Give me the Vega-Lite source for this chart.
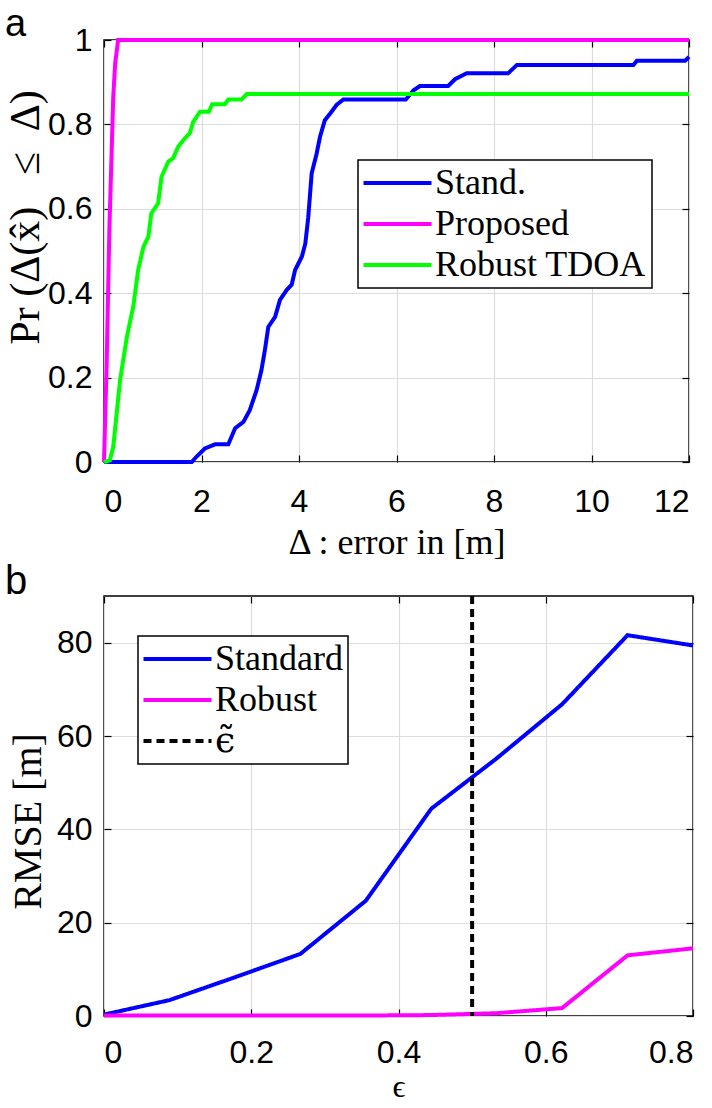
{
  "$schema": "https://vega.github.io/schema/vega-lite/v6.json",
  "background": "white",
  "padding": {"left": 3, "right": 5, "top": 5, "bottom": 0},
  "spacing": 0,
  "resolve": {"scale": {"color": "independent", "strokeDash": "independent", "strokeWidth": "independent"}},
  "datasets": {
    "cdf": [
      {"d": 0, "p": 0, "s": "Stand."},
      {"d": 1.80, "p": 0, "s": "Stand."},
      {"d": 1.90, "p": 0.013, "s": "Stand."},
      {"d": 2.07, "p": 0.032, "s": "Stand."},
      {"d": 2.28, "p": 0.042, "s": "Stand."},
      {"d": 2.55, "p": 0.042, "s": "Stand."},
      {"d": 2.69, "p": 0.08, "s": "Stand."},
      {"d": 2.86, "p": 0.095, "s": "Stand."},
      {"d": 2.99, "p": 0.123, "s": "Stand."},
      {"d": 3.13, "p": 0.17, "s": "Stand."},
      {"d": 3.23, "p": 0.218, "s": "Stand."},
      {"d": 3.30, "p": 0.265, "s": "Stand."},
      {"d": 3.37, "p": 0.32, "s": "Stand."},
      {"d": 3.51, "p": 0.344, "s": "Stand."},
      {"d": 3.61, "p": 0.384, "s": "Stand."},
      {"d": 3.75, "p": 0.408, "s": "Stand."},
      {"d": 3.85, "p": 0.42, "s": "Stand."},
      {"d": 3.92, "p": 0.455, "s": "Stand."},
      {"d": 4.06, "p": 0.487, "s": "Stand."},
      {"d": 4.13, "p": 0.518, "s": "Stand."},
      {"d": 4.19, "p": 0.58, "s": "Stand."},
      {"d": 4.26, "p": 0.684, "s": "Stand."},
      {"d": 4.36, "p": 0.73, "s": "Stand."},
      {"d": 4.43, "p": 0.77, "s": "Stand."},
      {"d": 4.53, "p": 0.81, "s": "Stand."},
      {"d": 4.64, "p": 0.826, "s": "Stand."},
      {"d": 4.77, "p": 0.846, "s": "Stand."},
      {"d": 4.91, "p": 0.859, "s": "Stand."},
      {"d": 6.19, "p": 0.859, "s": "Stand."},
      {"d": 6.35, "p": 0.881, "s": "Stand."},
      {"d": 6.48, "p": 0.891, "s": "Stand."},
      {"d": 7.06, "p": 0.891, "s": "Stand."},
      {"d": 7.20, "p": 0.907, "s": "Stand."},
      {"d": 7.44, "p": 0.921, "s": "Stand."},
      {"d": 8.29, "p": 0.921, "s": "Stand."},
      {"d": 8.47, "p": 0.941, "s": "Stand."},
      {"d": 10.86, "p": 0.941, "s": "Stand."},
      {"d": 10.93, "p": 0.951, "s": "Stand."},
      {"d": 11.92, "p": 0.951, "s": "Stand."},
      {"d": 12.0, "p": 0.96, "s": "Stand."},
      {"d": 0, "p": 0, "s": "Proposed"},
      {"d": 0.055, "p": 0.234, "s": "Proposed"},
      {"d": 0.11, "p": 0.55, "s": "Proposed"},
      {"d": 0.19, "p": 0.866, "s": "Proposed"},
      {"d": 0.23, "p": 0.945, "s": "Proposed"},
      {"d": 0.29, "p": 1.0, "s": "Proposed"},
      {"d": 12.0, "p": 1.0, "s": "Proposed"},
      {"d": 0, "p": 0, "s": "Robust TDOA"},
      {"d": 0.12, "p": 0.004, "s": "Robust TDOA"},
      {"d": 0.19, "p": 0.036, "s": "Robust TDOA"},
      {"d": 0.33, "p": 0.194, "s": "Robust TDOA"},
      {"d": 0.47, "p": 0.297, "s": "Robust TDOA"},
      {"d": 0.60, "p": 0.368, "s": "Robust TDOA"},
      {"d": 0.70, "p": 0.455, "s": "Robust TDOA"},
      {"d": 0.81, "p": 0.51, "s": "Robust TDOA"},
      {"d": 0.91, "p": 0.534, "s": "Robust TDOA"},
      {"d": 0.97, "p": 0.589, "s": "Robust TDOA"},
      {"d": 1.11, "p": 0.613, "s": "Robust TDOA"},
      {"d": 1.18, "p": 0.676, "s": "Robust TDOA"},
      {"d": 1.32, "p": 0.712, "s": "Robust TDOA"},
      {"d": 1.42, "p": 0.72, "s": "Robust TDOA"},
      {"d": 1.52, "p": 0.747, "s": "Robust TDOA"},
      {"d": 1.66, "p": 0.767, "s": "Robust TDOA"},
      {"d": 1.76, "p": 0.779, "s": "Robust TDOA"},
      {"d": 1.83, "p": 0.806, "s": "Robust TDOA"},
      {"d": 1.97, "p": 0.83, "s": "Robust TDOA"},
      {"d": 2.15, "p": 0.83, "s": "Robust TDOA"},
      {"d": 2.22, "p": 0.848, "s": "Robust TDOA"},
      {"d": 2.48, "p": 0.848, "s": "Robust TDOA"},
      {"d": 2.55, "p": 0.859, "s": "Robust TDOA"},
      {"d": 2.82, "p": 0.859, "s": "Robust TDOA"},
      {"d": 2.93, "p": 0.872, "s": "Robust TDOA"},
      {"d": 12.0, "p": 0.872, "s": "Robust TDOA"}
    ],
    "rmse": [
      {"eps": 0, "rmse": 0.3, "series": "Standard"},
      {"eps": 0.0889, "rmse": 3.4, "series": "Standard"},
      {"eps": 0.1778, "rmse": 8.3, "series": "Standard"},
      {"eps": 0.2667, "rmse": 13.3, "series": "Standard"},
      {"eps": 0.3556, "rmse": 24.7, "series": "Standard"},
      {"eps": 0.4444, "rmse": 44.4, "series": "Standard"},
      {"eps": 0.5333, "rmse": 55.2, "series": "Standard"},
      {"eps": 0.6222, "rmse": 66.8, "series": "Standard"},
      {"eps": 0.7111, "rmse": 81.6, "series": "Standard"},
      {"eps": 0.8, "rmse": 79.4, "series": "Standard"},
      {"eps": 0, "rmse": 0.1, "series": "Robust"},
      {"eps": 0.0889, "rmse": 0.1, "series": "Robust"},
      {"eps": 0.1778, "rmse": 0.1, "series": "Robust"},
      {"eps": 0.2667, "rmse": 0.1, "series": "Robust"},
      {"eps": 0.3556, "rmse": 0.1, "series": "Robust"},
      {"eps": 0.4444, "rmse": 0.2, "series": "Robust"},
      {"eps": 0.5333, "rmse": 0.6, "series": "Robust"},
      {"eps": 0.6222, "rmse": 1.7, "series": "Robust"},
      {"eps": 0.7111, "rmse": 13.0, "series": "Robust"},
      {"eps": 0.8, "rmse": 14.5, "series": "Robust"}
    ],
    "thr": [
      {"eps": 0.5, "series": "ϵ̃"}
    ]
  },
  "vconcat": [
    {
      "width": 585,
      "height": 422,
      "title": {"text": "a", "anchor": "start", "frame": "group", "dx": -99, "fontSize": 38, "font": "Liberation Sans", "fontWeight": "normal", "offset": -20},
      "data": {"name": "cdf"},
      "layer": [
        {
          "mark": {"type": "line", "strokeWidth": 4},
          "encoding": {
            "x": {"field": "d", "type": "quantitative", "scale": {"domain": [0, 12], "nice": false},
                  "axis": {"values": [0, 2, 4, 6, 8, 10, 12], "format": "~r", "title": "Δ : error in [m]", "labelPadding": 31, "titlePadding": 8}},
            "y": {"field": "p", "type": "quantitative", "scale": {"domain": [0, 1], "nice": false},
                  "axis": {"values": [0, 0.2, 0.4, 0.6, 0.8, 1], "format": "~r", "title": "Pr\u00a0(Δ(x̂)\u00a0\u00a0\u00a0≤\u00a0\u00a0Δ)", "titleFontSize": 42, "titleY": 177, "labelPadding": 19, "titlePadding": 0}},
            "color": {"field": "s", "type": "nominal",
                      "scale": {"domain": ["Stand.", "Proposed", "Robust TDOA"], "range": ["#0000ff", "#ff00ff", "#00ff00"]},
                      "legend": {"orient": "none", "legendX": 254, "legendY": 120, "title": null}}
          }
        },
        {
          "mark": {"type": "line", "opacity": 0},
          "encoding": {
            "x": {"field": "d", "type": "quantitative", "axis": {"orient": "top", "values": [0, 2, 4, 6, 8, 10, 12], "labels": false, "grid": false, "title": null}},
            "y": {"field": "p", "type": "quantitative", "axis": {"orient": "right", "values": [0, 0.2, 0.4, 0.6, 0.8, 1], "labels": false, "grid": false, "title": null}},
            "detail": {"field": "s"}
          }
        }
      ],
      "resolve": {"axis": {"x": "independent", "y": "independent"}}
    },
    {
      "width": 589,
      "height": 420,
      "title": {"text": "b", "anchor": "start", "frame": "group", "dx": -99, "fontSize": 40, "font": "Liberation Sans", "fontWeight": "normal", "offset": -8},
      "layer": [
        {
          "data": {"name": "rmse"},
          "mark": {"type": "line"},
          "encoding": {
            "x": {"field": "eps", "type": "quantitative", "scale": {"domain": [0, 0.8], "nice": false},
                  "axis": {"values": [0, 0.2, 0.4, 0.6, 0.8], "format": "~r", "title": "ϵ", "titleFontSize": 32, "labelPadding": 28, "titlePadding": 3}},
            "y": {"field": "rmse", "type": "quantitative", "scale": {"domain": [0, 90], "nice": false},
                  "axis": {"values": [0, 20, 40, 60, 80], "format": "~r", "title": "RMSE [m]", "titleFontSize": 40, "titleY": 225, "labelPadding": 19, "titlePadding": 8}},
            "color": {"field": "series", "type": "nominal",
                      "scale": {"domain": ["Standard", "Robust", "ϵ̃"], "range": ["#0000ff", "#ff00ff", "#000000"]},
                      "legend": {"orient": "none", "legendX": 34, "legendY": 40, "title": null,
                                 "encode": {"labels": {"update": {"font": {"signal": "datum.label == 'ϵ̃' ? 'DejaVu Serif' : 'Liberation Serif'"}}}}}},
            "strokeDash": {"field": "series", "type": "nominal",
                      "scale": {"domain": ["Standard", "Robust", "ϵ̃"], "range": [[1, 0], [1, 0], [8, 5]]},
                      "legend": {"orient": "none", "legendX": 34, "legendY": 40, "title": null}},
            "strokeWidth": {"field": "series", "type": "nominal",
                      "scale": {"domain": ["Standard", "Robust", "ϵ̃"], "range": [4, 4, 1.5]},
                      "legend": {"orient": "none", "legendX": 34, "legendY": 40, "title": null}}
          }
        },
        {
          "data": {"name": "thr"},
          "mark": {"type": "rule"},
          "encoding": {
            "x": {"field": "eps", "type": "quantitative", "axis": null},
            "color": {"field": "series", "type": "nominal"},
            "strokeDash": {"field": "series", "type": "nominal"},
            "strokeWidth": {"field": "series", "type": "nominal"}
          }
        },
        {
          "data": {"name": "rmse"},
          "mark": {"type": "line", "opacity": 0},
          "encoding": {
            "x": {"field": "eps", "type": "quantitative", "axis": {"orient": "top", "values": [0, 0.2, 0.4, 0.6, 0.8], "labels": false, "grid": false, "title": null}},
            "y": {"field": "rmse", "type": "quantitative", "axis": {"orient": "right", "values": [0, 20, 40, 60, 80], "labels": false, "grid": false, "title": null}},
            "detail": {"field": "series"}
          }
        }
      ],
      "resolve": {"axis": {"x": "independent", "y": "independent"}}
    }
  ],
  "config": {
    "view": {"stroke": "#000000", "strokeWidth": 1.5},
    "axis": {
      "domain": false,
      "grid": true,
      "gridColor": "#dcdcdc",
      "gridWidth": 1.2,
      "ticks": true,
      "tickColor": "#000000",
      "tickSize": -7,
      "tickWidth": 1.2,
      "labelFont": "Liberation Sans",
      "labelFontSize": 32,
      "labelColor": "#000000",
      "titleFont": "Liberation Serif",
      "titleFontSize": 36,
      "titleFontWeight": "normal",
      "titleColor": "#000000"
    },
    "legend": {
      "strokeColor": "#000000",
      "strokeWidth": 1.5,
      "fillColor": "#ffffff",
      "padding": 5,
      "labelFont": "Liberation Serif",
      "labelFontSize": 36,
      "labelColor": "#000000",
      "labelLimit": 0,
      "labelOffset": 19.5,
      "symbolOffset": 16.5,
      "symbolType": "M-4,0H4",
      "symbolSize": 289,
      "symbolStrokeWidth": 4,
      "rowPadding": 5
    }
  }
}
